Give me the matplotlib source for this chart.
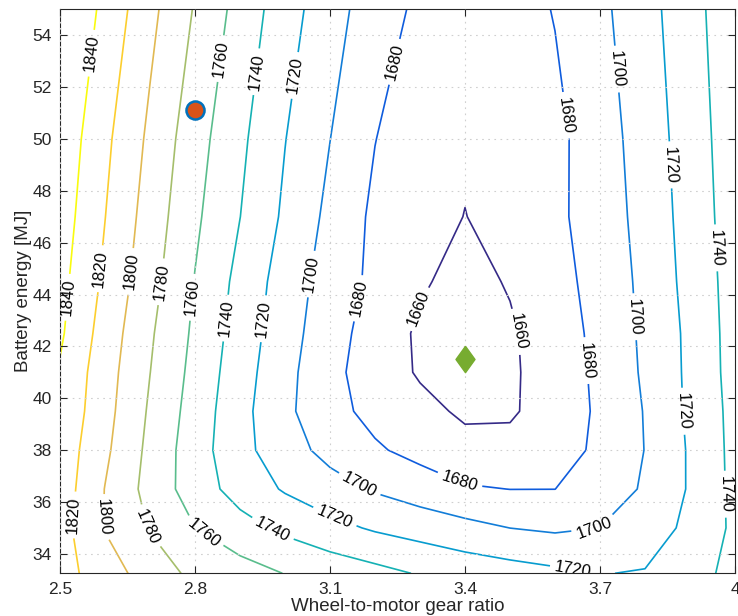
import numpy as np
import matplotlib.pyplot as plt

plt.rcParams['font.family'] = ['Liberation Sans', 'DejaVu Sans']

# Grid of the design study (gear ratio x battery energy)
gear_ratio = [2.5, 2.6, 2.7, 2.8, 2.9, 3.0, 3.1, 3.2, 3.3, 3.4, 3.5, 3.6, 3.7, 3.8, 3.9, 4.0]
battery_energy = [33.25, 35, 36.5, 38, 39.5, 41, 42.5, 44.5, 47, 50, 55]

# Objective value, one row per battery energy
cost = [
    [1828, 1809.3, 1791.1, 1775, 1768.1, 1759.5, 1752.7, 1746, 1738.5, 1732.5, 1728.4, 1724, 1719.5, 1721, 1736, 1743],
    [1827.8, 1799, 1778.7, 1760.2, 1747.2, 1735.7, 1725.9, 1717.6, 1711.8, 1705.9, 1699.9, 1697, 1700.1, 1711, 1724, 1744],
    [1831, 1799.5, 1773, 1750, 1732, 1718, 1707.5, 1698, 1690, 1682, 1679.8, 1679.9, 1690.4, 1702, 1721.9, 1745],
    [1832.3, 1803.7, 1775, 1749, 1726.3, 1708.2, 1694, 1682.5, 1674, 1666, 1666, 1673, 1683.2, 1700.4, 1722.1, 1745.6],
    [1836, 1806.7, 1777.5, 1751.5, 1726.3, 1704.3, 1686.3, 1674.3, 1665.4, 1657, 1657.5, 1669.2, 1683, 1701, 1723.6, 1746],
    [1838, 1808.5, 1780.2, 1754, 1728.6, 1706, 1685.3, 1670.4, 1658, 1650, 1657, 1669.5, 1684, 1702.9, 1724, 1747.5],
    [1843, 1811.5, 1782.5, 1756.4, 1731.1, 1708.4, 1688, 1671.4, 1657, 1650, 1657.5, 1670.6, 1685.1, 1703.8, 1724.3, 1748],
    [1846, 1816.2, 1787, 1759.2, 1734.2, 1710.9, 1691.2, 1675.4, 1662.2, 1654, 1661.5, 1673.2, 1687, 1704.9, 1726.4, 1748.4],
    [1850, 1820.3, 1791.2, 1763.5, 1740.2, 1716.6, 1695.1, 1676, 1668, 1659.6, 1667.4, 1676, 1689, 1707, 1727.9, 1750],
    [1854, 1824.4, 1796, 1768, 1744.2, 1720.5, 1700.2, 1680.4, 1668, 1663, 1665.5, 1675, 1690.9, 1708.8, 1729.6, 1751.3],
    [1862, 1835, 1805.4, 1778.4, 1752.7, 1729, 1707.8, 1690, 1675.8, 1669.7, 1671.2, 1681, 1695.5, 1712.7, 1732.6, 1753.7],
]
levels = [1660, 1680, 1700, 1720, 1740, 1760, 1780, 1800, 1820, 1840]

# Marked designs
baseline = (2.8, 51.1)
optimum = (3.4, 41.5)

xticks = [2.5, 2.8, 3.1, 3.4, 3.7, 4.0]
xtick_labels = ['2.5', '2.8', '3.1', '3.4', '3.7', '4']
yticks = [34, 36, 38, 40, 42, 44, 46, 48, 50, 52, 54]

# parula-like colours, one per level
line_colors = [
    (0.2081, 0.1663, 0.5292), (0.0591, 0.3598, 0.8683), (0.0723, 0.4887, 0.8467),
    (0.0265, 0.6137, 0.8135), (0.0843, 0.6928, 0.7062), (0.3482, 0.7424, 0.5473),
    (0.6473, 0.7456, 0.4188), (0.8824, 0.7274, 0.3217), (0.9880, 0.8066, 0.1794),
    (0.9763, 0.9831, 0.0538),
]

# where the contour labels sit (near these points)
label_spots = [
    (2.573, 53.3), (2.513, 43.9), (2.587, 45.0), (2.528, 35.5), (2.652, 44.9),
    (2.598, 35.4), (2.721, 44.5), (2.687, 35.0), (2.856, 53.1), (2.79, 43.9),
    (2.815, 34.7), (2.933, 52.6), (2.864, 43.1), (2.968, 34.8), (3.959, 45.8),
    (3.976, 36.3), (3.022, 52.45), (2.95, 43.07), (3.109, 35.36), (3.856, 49.0),
    (3.885, 39.5), (3.641, 33.44), (3.054, 44.8), (3.163, 36.6), (3.741, 52.7),
    (3.782, 43.15), (3.689, 34.85), (3.237, 53.0), (3.15, 43.9), (3.389, 36.84),
    (3.619, 50.9), (3.674, 41.46), (3.296, 43.46), (3.515, 42.56),
]

fig = plt.figure(figsize=(7.38, 6.16), dpi=100)
ax = fig.add_axes([60 / 738, 1 - 573.3 / 616, 675 / 738, 564 / 616])

X, Y = np.meshgrid(gear_ratio, battery_energy)
Z = np.array(cost)
cs = ax.contour(X, Y, Z, levels=levels, colors=line_colors, linewidths=1.2)
ax.clabel(cs, levels, manual=label_spots, inline=True, inline_spacing=5,
          fontsize=12, fmt='%d', colors='black')

# baseline and optimum designs
ax.plot(*baseline, 'o', ms=13, mfc='#D95319', mec='#0072BD', mew=1.8, zorder=3)
ax.plot(*optimum, marker=[(0, 1), (0.72, 0), (0, -1), (-0.72, 0), (0, 1)],
        ms=19, mfc='#77AC30', mec='#77AC30', ls='none', zorder=3)

ax.set_xlim(2.5, 4.0)
ax.set_ylim(33.25, 55)
ax.set_xticks(xticks)
ax.set_xticklabels(xtick_labels)
ax.set_yticks(yticks)

ax.grid(True, color='#cfcfcf', linestyle=(0, (1.5, 4)), linewidth=0.8)
ax.set_axisbelow(False)
for gl in ax.get_xgridlines() + ax.get_ygridlines():
    gl.set_zorder(4)

ax.tick_params(direction='in', length=5, width=0.8, top=True, right=True,
               labelsize=12.5, colors='#262626', pad=6)
for sp in ax.spines.values():
    sp.set_color('#262626')
    sp.set_linewidth(0.8)

ax.set_xlabel('Wheel-to-motor gear ratio', fontsize=13.5, color='#262626', labelpad=1)
ax.set_ylabel('Battery energy [MJ]', fontsize=13.5, color='#262626', labelpad=0)

fig.savefig('out.png', dpi=100)
